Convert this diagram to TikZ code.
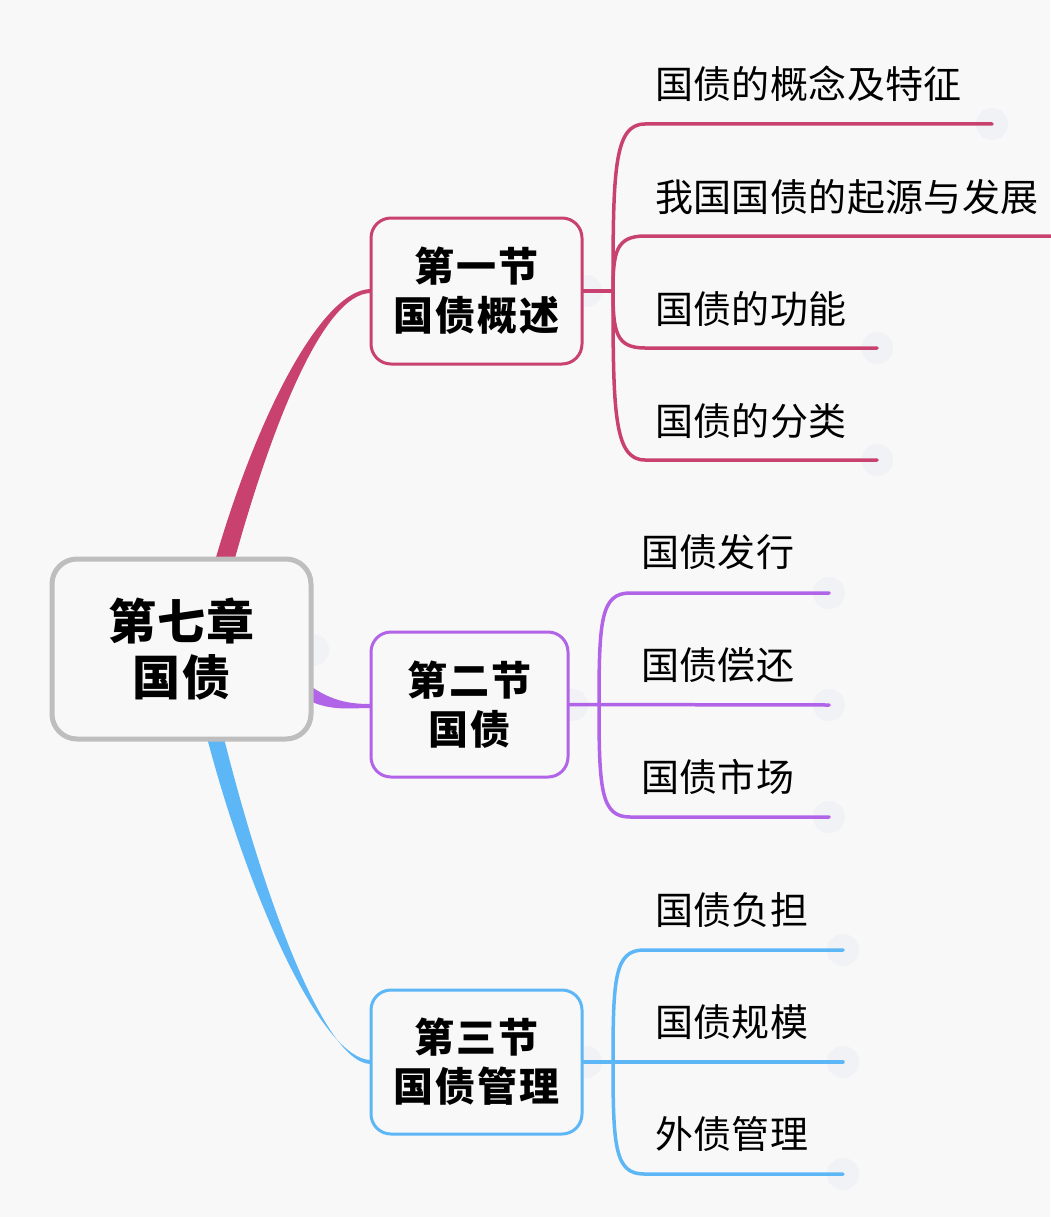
\documentclass[tikz,border=0pt]{standalone}
\usepackage{fontspec}
\newfontfamily\cjk{Noto Sans CJK SC}
\definecolor{bgc}{RGB}{248,248,248}
\definecolor{redc}{RGB}{201,66,111}
\definecolor{purc}{RGB}{178,100,232}
\definecolor{bluc}{RGB}{93,183,247}
\definecolor{rootc}{RGB}{190,190,190}
\definecolor{knobc}{RGB}{241,242,246}
\begin{document}
\begin{tikzpicture}[x=1pt,y=-1pt,
  secbox/.style={draw, line width=3pt, rounded corners=20pt, fill=bgc, align=center,
    font=\cjk\bfseries\fontsize{40}{49}\selectfont\addfontfeature{LetterSpace=5}, inner sep=0pt},
  rootbox/.style={draw=rootc, line width=5pt, rounded corners=25pt, fill=bgc, align=center,
    font=\cjk\bfseries\fontsize{48}{56}\selectfont\addfontfeature{LetterSpace=3}, inner sep=0pt,
    minimum width=259pt, minimum height=180pt},
  leaf/.style={anchor=west, inner sep=0pt, font=\cjk\fontsize{38}{46}\selectfont\addfontfeature{LetterSpace=1}},
  br/.style={line width=3.5pt, line cap=round},
  knob/.style={circle, fill=knobc, minimum size=32pt, inner sep=0pt}
]
\useasboundingbox (0,0) rectangle (1050,1217);
\fill[bgc] (0,0) rectangle (1050,1217);

% knobs (faint collapse buttons)
\foreach \p in {(992,124),(877,348),(877,460),(829,593),(829,705),(829,817),(843,950),(843,1062),(843,1174),(586,291),(572,705),(586,1062),(313,650)}
  \node[knob] at \p {};

% tapered main connectors
\fill[redc] (211,575) .. controls (252,426) and (320,289) .. (371,289) -- (371,293) .. controls (322,293) and (268,434) .. (229,580) -- cycle;
\fill[bluc] (203,722) .. controls (244,886) and (320,1060) .. (371,1060) -- (371,1064) .. controls (322,1064) and (258,880) .. (219,718) -- cycle;
\fill[purc] (295,674) .. controls (325,700) and (345,704) .. (371,704) -- (371,708) .. controls (345,708) and (322,713) .. (292,690) -- cycle;

% section nodes
\node[secbox, draw=redc, minimum width=211pt, minimum height=146pt] (s1) at (476.5,291) {第一节\\国债概述};
\node[secbox, draw=purc, minimum width=197pt, minimum height=145pt] (s2) at (469.5,704.5) {第二节\\国债};
\node[secbox, draw=bluc, minimum width=211pt, minimum height=144pt] (s3) at (476.5,1062) {第三节\\国债管理};
\node[rootbox] (root) at (181.5,649) {第七章\\国债};

% section 1 branches
\coordinate (sp1) at (613,291);
\coordinate (a1) at (645,124); \coordinate (a1e) at (992,124);
\coordinate (a2) at (645,236); \coordinate (a2e) at (1052,236);
\coordinate (a3) at (645,348); \coordinate (a3e) at (877,348);
\coordinate (a4) at (645,460); \coordinate (a4e) at (877,460);
\draw[br, redc] (s1.east) -- (sp1);
\draw[br, redc] (sp1) .. controls (613,170) and (614,124) .. (a1) -- (a1e);
\draw[br, redc] (sp1) .. controls (613,252) and (616,236) .. (a2) -- (a2e);
\draw[br, redc] (sp1) .. controls (613,332) and (616,348) .. (a3) -- (a3e);
\draw[br, redc] (sp1) .. controls (613,412) and (614,460) .. (a4) -- (a4e);
\node[leaf] (l1) at (655,84) {国债的概念及特征};
\node[leaf] (l2) at (655,197) {我国国债的起源与发展};
\node[leaf] (l3) at (655,309) {国债的功能};
\node[leaf] (l4) at (655,421) {国债的分类};

% section 2 branches
\coordinate (sp2) at (599,705);
\coordinate (b1) at (630,593); \coordinate (b1e) at (829,593);
\coordinate (b2e) at (829,705);
\coordinate (b3) at (630,817); \coordinate (b3e) at (829,817);
\draw[br, purc] (s2.east) -- (b2e);
\draw[br, purc] (sp2) .. controls (599,620) and (601,593) .. (b1) -- (b1e);
\draw[br, purc] (sp2) .. controls (599,790) and (601,817) .. (b3) -- (b3e);
\node[leaf] (m1) at (641,552) {国债发行};
\node[leaf] (m2) at (641,665) {国债偿还};
\node[leaf] (m3) at (641,777) {国债市场};

% section 3 branches
\coordinate (sp3) at (613,1062);
\coordinate (c1) at (644,950); \coordinate (c1e) at (843,950);
\coordinate (c2e) at (843,1062);
\coordinate (c3) at (644,1174); \coordinate (c3e) at (843,1174);
\draw[br, bluc] (s3.east) -- (c2e);
\draw[br, bluc] (sp3) .. controls (613,977) and (615,950) .. (c1) -- (c1e);
\draw[br, bluc] (sp3) .. controls (613,1147) and (615,1174) .. (c3) -- (c3e);
\node[leaf] (n1) at (655,910) {国债负担};
\node[leaf] (n2) at (655,1022) {国债规模};
\node[leaf] (n3) at (655,1134) {外债管理};
\end{tikzpicture}
\end{document}
